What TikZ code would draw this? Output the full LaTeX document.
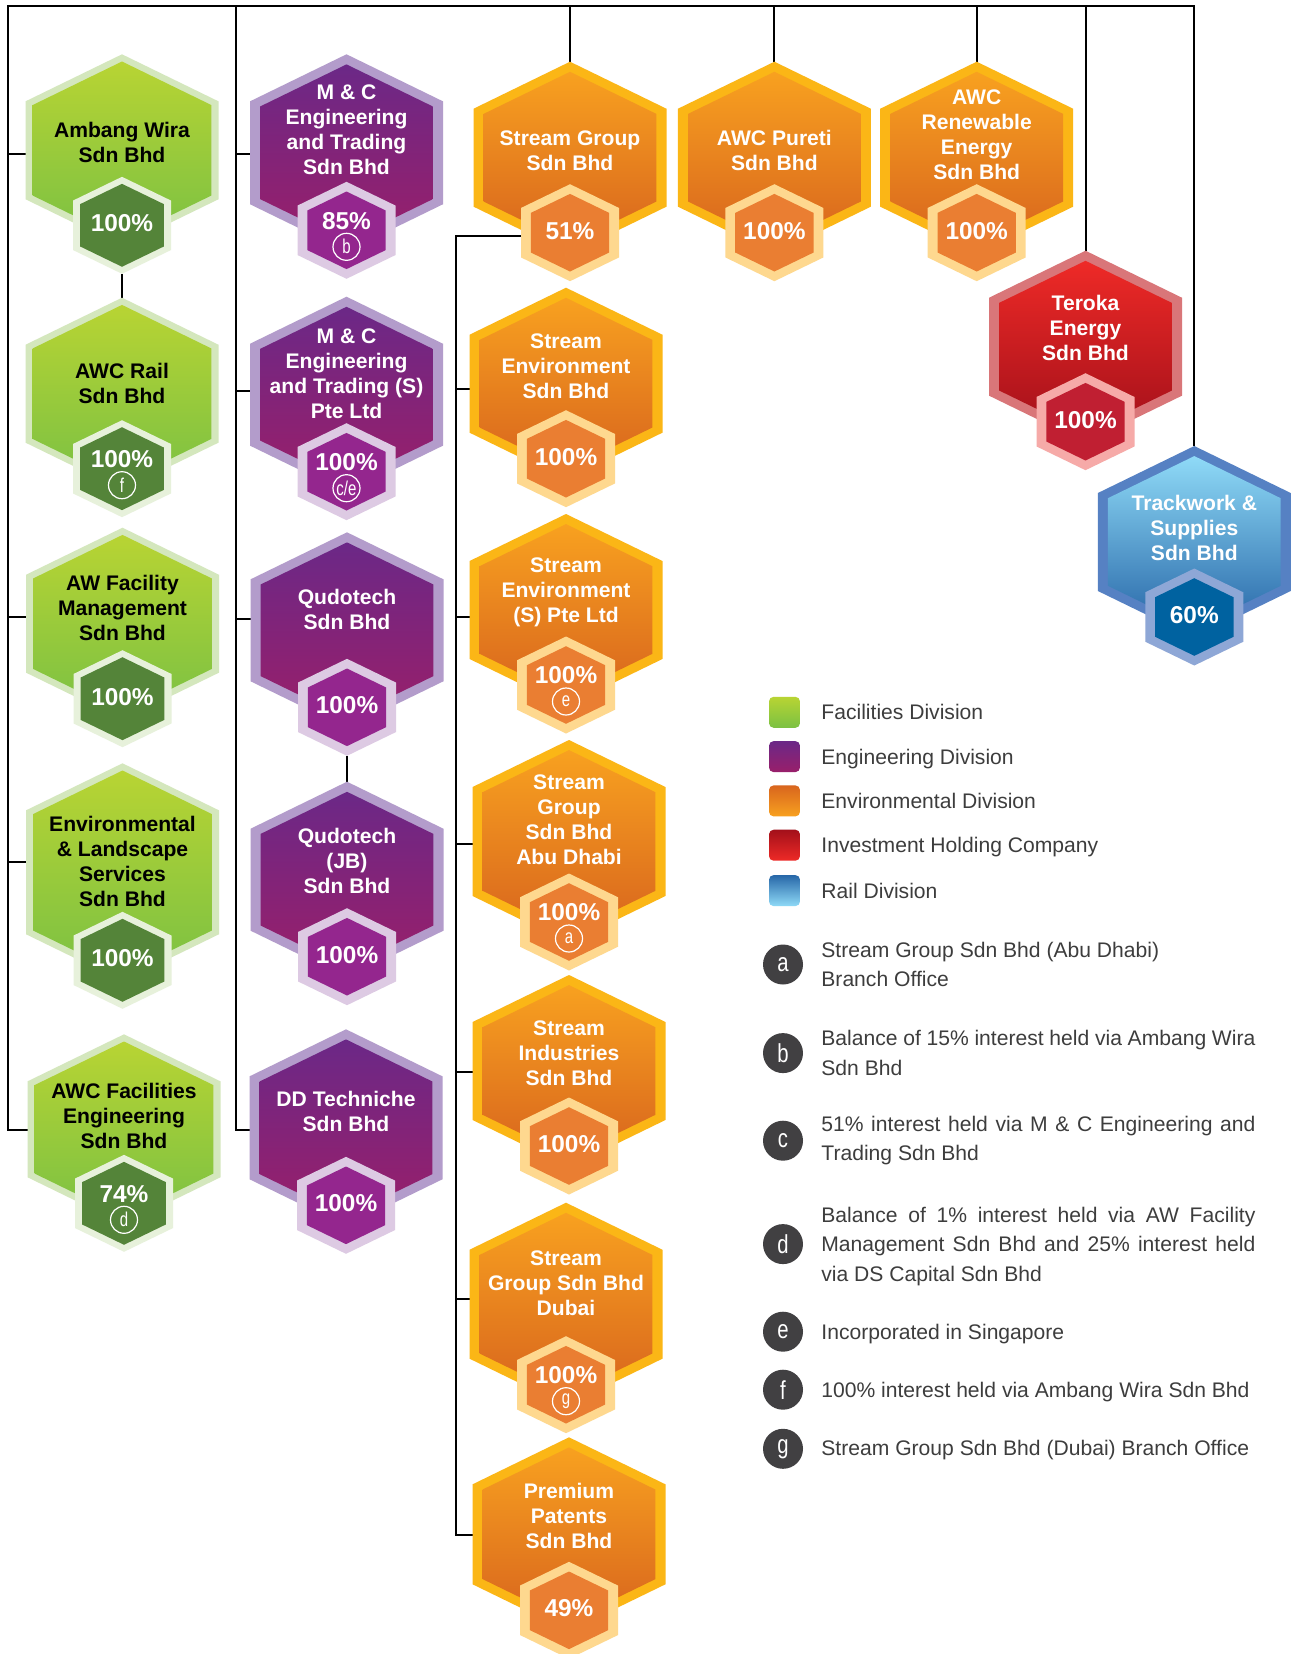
\documentclass[tikz,border=0pt]{standalone}
\usepackage{fontspec}
\setmainfont{Liberation Sans}
\usepackage{graphicx}
\usetikzlibrary{backgrounds}
% green
\definecolor{grB}{HTML}{D4E7BD}\definecolor{grT}{HTML}{B8D433}\definecolor{grD}{HTML}{7BC143}
\definecolor{grS}{HTML}{E7F1DB}\definecolor{grF}{HTML}{548439}\definecolor{grX}{HTML}{000000}
\def\grf{0.925}\def\grg{0.855}
% purple
\definecolor{puB}{HTML}{B39CCB}\definecolor{puT}{HTML}{6B2887}\definecolor{puD}{HTML}{991F6A}
\definecolor{puS}{HTML}{DDCAE3}\definecolor{puF}{HTML}{94268E}\definecolor{puX}{HTML}{FFFFFF}
\def\puf{0.895}\def\pug{0.8}
% orange
\definecolor{orB}{HTML}{FBB616}\definecolor{orT}{HTML}{F8A11F}\definecolor{orD}{HTML}{D8651E}
\definecolor{orS}{HTML}{FED88F}\definecolor{orF}{HTML}{EA7E32}\definecolor{orX}{HTML}{FFFFFF}
\def\orf{0.895}\def\org{0.8}
% red
\definecolor{rdB}{HTML}{D97679}\definecolor{rdT}{HTML}{EE2A27}\definecolor{rdD}{HTML}{A3101A}
\definecolor{rdS}{HTML}{F6AAA8}\definecolor{rdF}{HTML}{C01F32}\definecolor{rdX}{HTML}{FFFFFF}
\def\rdf{0.895}\def\rdg{0.8}
% blue
\definecolor{blB}{HTML}{5681C3}\definecolor{blT}{HTML}{8FDAF7}\definecolor{blD}{HTML}{2767A8}
\definecolor{blS}{HTML}{8EA7D6}\definecolor{blF}{HTML}{0062A0}\definecolor{blX}{HTML}{FFFFFF}
\def\blf{0.895}\def\blg{0.8}
\definecolor{lgray}{HTML}{3D3D3D}
\definecolor{ncirc}{HTML}{414042}

\tikzset{
  hexlabel/.style={align=center, inner sep=0pt, font=\bfseries\fontsize{10.55}{12.5}\selectfont},
  pcttext/.style={inner sep=0pt, text=white, font=\bfseries\fontsize{12.2}{12.5}\selectfont},
  letcirc/.style={circle, draw=white, line width=0.6pt, minimum size=13.5pt, inner sep=0pt, text=white, font=\fontsize{10}{10}\selectfont},
  conn/.style={line width=1pt, draw=black},
  legsq/.style={rounded corners=2.3pt, minimum size=15.5pt, inner sep=0pt},
  legtext/.style={anchor=base west, inner sep=0pt, text=lgray, font=\fontsize{10.55}{14.75}\selectfont},
  notetext/.style={anchor=west, inner sep=0pt, text=lgray, font=\fontsize{10.55}{14.75}\selectfont, text width=217pt, align=justify},
  notecirc/.style={circle, fill=ncirc, minimum size=20pt, inner sep=0pt, text=white, font=\fontsize{13}{13}\selectfont},
}

% #1 options, #2 cx, #3 cy, #4 half width, #5 half height, #6 extra half stretch
\newcommand\hexshape[6]{\path[#1] (#2,#3-#5-#6) -- (#2+#4,#3-0.51*#5-#6) -- (#2+#4,#3+0.51*#5+#6) -- (#2,#3+#5+#6) -- (#2-#4,#3+0.51*#5+#6) -- (#2-#4,#3-0.51*#5-#6) -- cycle;}

\def\hst{0}% vertical stretch of the big hexagon
% #1 name, #2 x, #3 top y, #4 division, #5 label y, #6 label, #7 percent, #8 note letter
\newcommand\company[8]{%
  \edef\hf{\csname #4f\endcsname}%
  \edef\hg{\csname #4g\endcsname}%
  \pgfmathsetmacro\he{\hst/2}%
  \pgfmathsetmacro\hcy{#3+96+\he}%
  \pgfmathsetmacro\hsy{#3+171+\hst}%
  \pgfmathsetmacro\hbw{96.5*\hf}%
  \pgfmathsetmacro\hbh{96*\hf}%
  \pgfmathsetmacro\hsw{49*\hg}%
  \pgfmathsetmacro\hsh{48.5*\hg}%
  \pgfmathsetmacro\hsb{\hsy+48.5}%
  \hexshape{fill=#4B}{#2}{\hcy}{96.5}{96}{\he}%
  \hexshape{top color=#4T,bottom color=#4D}{#2}{\hcy}{\hbw}{\hbh}{\he}%
  \hexshape{fill=#4S}{#2}{\hsy}{49}{48.5}{0}%
  \hexshape{fill=#4F}{#2}{\hsy}{\hsw}{\hsh}{0}%
  \coordinate (#1-top) at (#2,#3);
  \coordinate (#1-c) at (#2,\hcy);
  \coordinate (#1-s) at (#2,\hsy);
  \coordinate (#1-sb) at (#2,\hsb);
  \node[hexlabel,text=#4X] (#1) at (#2,#5) {#6};
  \ifx\relax#8\relax
    \node[pcttext] (#1-p) at (#2,\hsy-2) {#7};
  \else
    \node[pcttext] (#1-p) at (#2,\hsy-9.5) {#7};
    \node[letcirc] (#1-n) at (#2,\hsy+16.5) {\scalebox{0.75}[1]{#8}};
  \fi
}

\begin{document}
\begin{tikzpicture}[x=0.5pt,y=-0.5pt]
\useasboundingbox (0,0) rectangle (1300,1654);

% Facilities (green) column
\company{ambang}{122}{54.3}{gr}{142.5}{Ambang Wira\\Sdn Bhd}{100\%}{}
\company{awcrail}{122}{297.7}{gr}{383.8}{AWC Rail\\Sdn Bhd}{100\%}{f}
\company{awfac}{122.5}{527.7}{gr}{608.3}{AW Facility\\Management\\Sdn Bhd}{100\%}{}
\def\hst{26}
\company{envland}{122.5}{763.3}{gr}{861}{Environmental\\\& Landscape\\Services\\Sdn Bhd}{100\%}{}
\def\hst{-2}
\company{awcfe}{124}{1034.3}{gr}{1116.3}{AWC Facilities\\Engineering\\Sdn Bhd}{74\%}{d}

% Engineering (purple) column
\def\hst{5}
\company{mc}{346.5}{54.3}{pu}{129.7}{M \& C\\Engineering\\and Trading\\Sdn Bhd}{85\%}{b}
\def\hst{4}
\company{mcs}{346.5}{296.7}{pu}{373.3}{M \& C\\Engineering\\and Trading (S)\\Pte Ltd}{100\%}{c/e}
\company{qudo}{347}{532.3}{pu}{609.5}{Qudotech\\Sdn Bhd}{100\%}{}
\company{qudojb}{347}{781.7}{pu}{861}{Qudotech\\(JB)\\Sdn Bhd}{100\%}{}
\def\hst{5}
\company{dd}{346}{1029.3}{pu}{1111.5}{DD Techniche\\Sdn Bhd}{100\%}{}
\def\hst{0}

% Environmental (orange)
\company{sg}{570}{61.7}{or}{150.5}{Stream Group\\Sdn Bhd}{51\%}{}
\company{pureti}{774.4}{61.7}{or}{150.5}{AWC Pureti\\Sdn Bhd}{100\%}{}
\company{renew}{976.7}{61.7}{or}{135}{AWC\\Renewable\\Energy\\Sdn Bhd}{100\%}{}
\company{senv}{566}{287.7}{or}{366.7}{Stream\\Environment\\Sdn Bhd}{100\%}{}
\company{senvs}{566}{514}{or}{592.1}{Stream\\Environment\\(S) Pte Ltd}{100\%}{e}
\def\hst{11}
\company{sgad}{569}{740}{or}{820}{Stream\\Group\\Sdn Bhd\\Abu Dhabi}{100\%}{a}
\def\hst{0}
\company{sind}{569}{975}{or}{1053.4}{Stream\\Industries\\Sdn Bhd}{100\%}{}
\def\hst{11}
\company{sgdu}{566}{1202.7}{or}{1283.1}{Stream\\Group Sdn Bhd\\Dubai}{100\%}{g}
\def\hst{2}
\company{prem}{569}{1437.3}{or}{1515.9}{Premium\\Patents\\Sdn Bhd}{49\%}{}
\def\hst{0}

% Investment holding and Rail
\company{teroka}{1085.5}{250.7}{rd}{327.8}{Teroka\\Energy\\Sdn Bhd}{100\%}{}
\company{track}{1194.3}{446}{bl}{527.9}{Trackwork \&\\Supplies\\Sdn Bhd}{60\%}{}

% Connectors (behind the hexagons)
\begin{pgfonlayer}{background}
\fill[white] (0,0) rectangle (1300,1654);
\coordinate (T0) at (8,6);
\coordinate (T1) at (236,6);
\coordinate (G1) at (8,154);
\coordinate (G3) at (8,616.7);
\coordinate (G4) at (8,861.7);
\coordinate (G5) at (8,1130);
\coordinate (P1) at (236,154.3);
\coordinate (P2) at (236,391);
\coordinate (P3) at (236,619.3);
\coordinate (P5) at (236,1130);
\coordinate (O0) at (456,236);
\coordinate (O2) at (456,389.3);
\coordinate (O3) at (456,616.7);
\coordinate (O4) at (456,844);
\coordinate (O5) at (456,1071.7);
\coordinate (O6) at (456,1299.3);
\coordinate (O7) at (456,1535);

\draw[conn] (G5 -| awcfe-c) -- (G5) -- (T0) -- (T0 -| track-top) -- (track-top);
\draw[conn] (G1) -- (G1 -| ambang-c);
\draw[conn] (G3) -- (G3 -| awfac-c);
\draw[conn] (G4) -- (G4 -| envland-c);
\draw[conn] (ambang-sb) -- (awcrail-top);

\draw[conn] (T1) -- (P5) -- (P5 -| dd-c);
\draw[conn] (P1) -- (P1 -| mc-c);
\draw[conn] (P2) -- (P2 -| mcs-c);
\draw[conn] (P3) -- (P3 -| qudo-c);
\draw[conn] (qudo-sb) -- (qudojb-top);

\draw[conn] (T0 -| sg-top) -- (sg-top);
\draw[conn] (T0 -| pureti-top) -- (pureti-top);
\draw[conn] (T0 -| renew-top) -- (renew-top);
\draw[conn] (T0 -| teroka-top) -- (teroka-top);

\draw[conn] (O0 -| sg-s) -- (O0) -- (O7) -- (O7 -| prem-c);
\draw[conn] (O2) -- (O2 -| senv-c);
\draw[conn] (O3) -- (O3 -| senvs-c);
\draw[conn] (O4) -- (O4 -| sgad-c);
\draw[conn] (O5) -- (O5 -| sind-c);
\draw[conn] (O6) -- (O6 -| sgdu-c);
\end{pgfonlayer}

% Legend
\node[legsq, top color=grT, bottom color=grD] (lg1) at (784.5,712.3) {};
\node[legsq, top color=puT, bottom color=puD] (lg2) at (784.5,756.6) {};
\node[legsq, top color=orD, bottom color=orT] (lg3) at (784.5,800.9) {};
\node[legsq, top color=rdD, bottom color=rdT] (lg4) at (784.5,845.2) {};
\node[legsq, top color=blD, bottom color=blT] (lg5) at (784.5,890.6) {};
\node[legtext] (lt1) at (821,719.8) {Facilities Division};
\node[legtext] (lt2) at (821,764.1) {Engineering Division};
\node[legtext] (lt3) at (821,808.4) {Environmental Division};
\node[legtext] (lt4) at (821,852.7) {Investment Holding Company};
\node[legtext] (lt5) at (821,898.1) {Rail Division};

% Notes
\node[notecirc] (na) at (783,964.5) {\scalebox{0.78}[1]{a}};
\node[notecirc] (nb) at (783,1053.1) {\scalebox{0.78}[1]{b}};
\node[notecirc] (nc) at (783,1140.7) {\scalebox{0.78}[1]{c}};
\node[notecirc] (nd) at (783,1244.1) {\scalebox{0.78}[1]{d}};
\node[notecirc] (ne) at (783,1331.7) {\scalebox{0.78}[1]{e}};
\node[notecirc] (nf) at (783,1389.7) {\scalebox{0.78}[1]{f}};
\node[notecirc] (ng) at (783,1448.8) {\scalebox{0.78}[1]{g}};

\node[notetext] (ta) at (821,964.5) {Stream Group Sdn Bhd (Abu Dhabi)\\Branch Office};
\node[notetext] (tb) at (821,1053.1) {Balance of 15\% interest held via Ambang Wira\linebreak Sdn Bhd};
\node[notetext] (tc) at (821,1140.7) {51\% interest held via M \& C Engineering and\linebreak Trading Sdn Bhd};
\node[notetext] (td) at (821,1246.5) {Balance of 1\% interest held via AW Facility\linebreak Management Sdn Bhd and 25\% interest held\linebreak via DS Capital Sdn Bhd};
\node[legtext] (te) at (821,1339.3) {Incorporated in Singapore};
\node[legtext] (tf) at (821,1397.3) {100\% interest held via Ambang Wira Sdn Bhd};
\node[legtext] (tg) at (821,1455.3) {Stream Group Sdn Bhd (Dubai) Branch Office};
\end{tikzpicture}
\end{document}
